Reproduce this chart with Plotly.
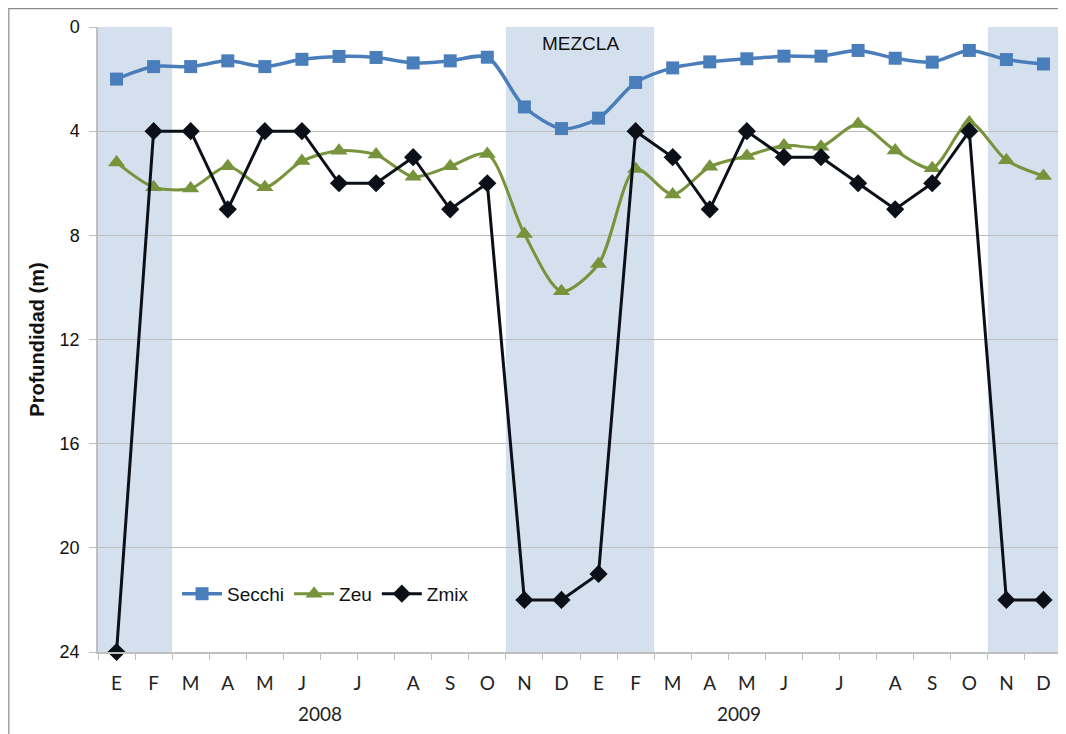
import plotly.graph_objects as go

# ---- data ----
month_labels = ["E", "F", "M", "A", "M", "J", "J", "A", "S", "O", "N", "D",
                "E", "F", "M", "A", "M", "J", "J", "A", "S", "O", "N", "D"]
# category index where each month label sits (July has two samples each year)
month_label_pos = [0, 1, 2, 3, 4, 5, 6.5, 8, 9, 10, 11, 12,
                   13, 14, 15, 16, 17, 18, 19.5, 21, 22, 23, 24, 25]
years = ["2008", "2009"]
year_label_pos = [5.5, 16.8]

secchi = [2.0, 1.52, 1.52, 1.3, 1.52, 1.24, 1.13, 1.17, 1.38, 1.3, 1.16, 3.07, 3.9,
          3.5, 2.13, 1.57, 1.34, 1.22, 1.12, 1.12, 0.9, 1.2, 1.35, 0.9, 1.25, 1.42]
zeu = [5.2, 6.15, 6.2, 5.35, 6.15, 5.15, 4.75, 4.9, 5.75, 5.35, 4.88, 7.95, 10.15,
       9.1, 5.45, 6.43, 5.37, 4.95, 4.55, 4.6, 3.72, 4.74, 5.42, 3.67, 5.12, 5.72]
zmix = [24, 4, 4, 7, 4, 4, 6, 6, 5, 7, 6, 22, 22,
        21, 4, 5, 7, 4, 5, 5, 6, 7, 6, 4, 22, 22]

# mixing periods (first and last sample index)
mix_periods = [(0, 1), (11, 14), (24, 25)]
mix_label = "MEZCLA"

x = list(range(len(secchi)))
n = len(x)

fig = go.Figure()

# shaded mixing periods
for a, b in mix_periods:
    fig.add_shape(type="rect", xref="x", yref="paper", x0=a - 0.5, x1=b + 0.5,
                  y0=0, y1=1, fillcolor="#D5E0EE", line_width=0, layer="below")

fig.add_trace(go.Scatter(
    x=x, y=secchi, name="Secchi", mode="lines+markers", cliponaxis=False,
    line=dict(color="#4A7EBB", width=3.5, shape="spline", smoothing=0.8),
    marker=dict(symbol="square", size=13, color="#4A7EBB")))
fig.add_trace(go.Scatter(
    x=x, y=zeu, name="Zeu", mode="lines+markers", cliponaxis=False,
    line=dict(color="#77933C", width=3, shape="spline", smoothing=0.8),
    marker=dict(symbol="triangle-up", size=15, color="#77933C")))
fig.add_trace(go.Scatter(
    x=x, y=zmix, name="Zmix", mode="lines+markers", cliponaxis=False,
    line=dict(color="#0B0F18", width=3),
    marker=dict(symbol="diamond", size=14, color="#0B0F18")))

# MEZCLA label centered over the middle band
mid = mix_periods[1]
fig.add_annotation(x=(mid[0] + mid[1]) / 2, y=0.974, xref="x", yref="paper",
                   text=mix_label, showarrow=False, yanchor="middle",
                   font=dict(family="Liberation Sans", size=19, color="#111"))

for yr, pos in zip(years, year_label_pos):
    fig.add_annotation(x=pos, y=-0.099, xref="x", yref="paper", text=yr,
                       showarrow=False, yanchor="middle",
                       font=dict(family="Lato", size=19, color="#222"))

# outer chart border
fig.add_shape(type="rect", xref="paper", yref="paper", x0=-0.0925, x1=1.03,
              y0=-0.2, y1=1.0295, line=dict(color="#8A8A8A", width=1.2),
              fillcolor="rgba(0,0,0,0)")

fig.update_layout(
    width=1066, height=734,
    margin=dict(l=90, r=12, t=19, b=90, autoexpand=False),
    paper_bgcolor="white", plot_bgcolor="white",
    showlegend=True,
    legend=dict(orientation="h", x=0.082, y=0.093, xanchor="left", yanchor="middle",
                bgcolor="rgba(0,0,0,0)", font=dict(family="Liberation Sans", size=19, color="#111"),
                itemwidth=40, tracegroupgap=0),
    xaxis=dict(range=[-0.5, n - 0.5], tickmode="array", tickvals=month_label_pos,
               ticktext=month_labels, ticks="", showgrid=False, zeroline=False,
               showline=True, linecolor="#BFBFBF", linewidth=1.5, automargin=False,
               ticklabelstandoff=13,
               tickfont=dict(family="Lato", size=19, color="#222"),
               minor=dict(tickmode="linear", tick0=-0.5, dtick=1, ticks="outside",
                          ticklen=6, tickcolor="#BFBFBF", tickwidth=1, showgrid=False)),
    yaxis=dict(range=[24, 0], tickmode="array", tickvals=[0, 4, 8, 12, 16, 20, 24],
               showgrid=True, gridcolor="#BDBDBD", gridwidth=1, zeroline=False,
               showline=True, linecolor="#BFBFBF", linewidth=1.5, automargin=False,
               ticks="outside", ticklen=7, tickcolor="#BFBFBF", ticklabelstandoff=6,
               tickfont=dict(family="Liberation Sans", size=18, color="#111"),
               title=dict(text="<b>Profundidad (m)</b>", standoff=10,
                          font=dict(family="Liberation Sans", size=20, color="#111"))),
)

fig.write_html("out.html")
